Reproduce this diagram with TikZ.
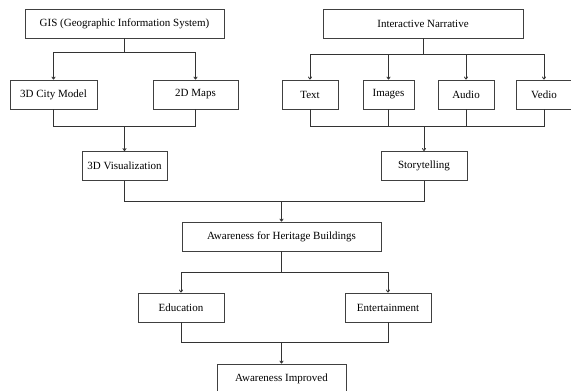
\documentclass[tikz,border=0pt]{standalone}
\usepackage{fontspec}
\setmainfont{Liberation Serif}
\usetikzlibrary{positioning, arrows.meta, calc}

\begin{document}
\begin{tikzpicture}[
    x=1pt, y=-1pt,
    box/.style={
        rectangle,
        draw=black!75,
        line width=0.8pt,
        fill=white,
        minimum height=29pt,
        inner sep=0pt,
        font=\fontsize{11}{13}\selectfont
    },
    link/.style={
        draw=black!80,
        line width=0.8pt
    },
    arr/.style={
        link,
        -{To[length=3pt, width=4pt]}
    }
]

    % Frame of the page
    \clip (0,0) rectangle (571,391);

    % Nodes
    \node[box, minimum width=199pt] (gis) at (124.5,23.5) {GIS (Geographic Information System)};
    \node[box, minimum width=87pt] (citymodel) at (53.5,94.5) {3D City Model};
    \node[box, minimum width=85pt] (maps) at (195.5,94.5) {2D Maps};
    \node[box, minimum width=85pt] (visual) at (124.5,166) {3D Visualization};

    \node[box, minimum width=200pt] (narrative) at (423,23.5) {Interactive Narrative};
    \node[box, minimum width=56pt] (text) at (310,94.5) {Text};
    \node[box, minimum width=51pt] (images) at (388.5,94.5) {Images};
    \node[box, minimum width=56pt] (audio) at (466,94.5) {Audio};
    \node[box, minimum width=56pt] (vedio) at (544,94.5) {Vedio};
    \node[box, minimum width=86pt] (story) at (424,166) {Storytelling};

    \node[box, minimum width=199pt] (aware) at (281.5,236.5) {Awareness for Heritage Buildings};
    \node[box, minimum width=86pt] (edu) at (181,307.5) {Education};
    \node[box, minimum width=86pt] (enter) at (388,307.5) {Entertainment};
    \node[box, minimum width=129pt] (improved) at (281.5,378.5) {Awareness Improved};

    % Fork points
    \coordinate (gisfork) at ([yshift=-14pt]gis.south);
    \coordinate (narrfork) at ([yshift=-16pt]narrative.south);
    \coordinate (visjoin) at ([yshift=25pt]visual.north);
    \coordinate (storyjoin) at ([yshift=25pt]story.north);
    \coordinate (awarejoin) at ([yshift=20pt]aware.north);
    \coordinate (awarefork) at ([yshift=-21pt]aware.south);
    \coordinate (impjoin) at ([yshift=21pt]improved.north);

    % GIS branch
    \draw[link] (gis.south) -- (gisfork);
    \draw[arr] (gisfork) -| (citymodel.north);
    \draw[arr] (gisfork) -| (maps.north);
    \draw[link] (citymodel.south) |- (visjoin) -| (maps.south);
    \draw[arr] (visjoin) -- (visual.north);

    % Narrative branch
    \draw[link] (narrative.south) -- (narrfork);
    \foreach \part in {text, images, audio, vedio}
        \draw[arr] (narrfork) -| (\part.north);
    \draw[link] (text.south) |- (storyjoin) -| (vedio.south);
    \draw[link] (images.south) -- (images.south |- storyjoin);
    \draw[link] (audio.south) -- (audio.south |- storyjoin);
    \draw[arr] (storyjoin) -- (story.north);

    % Both into awareness
    \draw[link] (visual.south) |- (awarejoin) -| (story.south);
    \draw[arr] (awarejoin) -- (aware.north);

    % Awareness outcomes
    \draw[link] (aware.south) -- (awarefork);
    \draw[arr] (awarefork) -| (edu.north);
    \draw[arr] (awarefork) -| (enter.north);
    \draw[link] (edu.south) |- (impjoin) -| (enter.south);
    \draw[arr] (impjoin) -- (improved.north);

\end{tikzpicture}
\end{document}
